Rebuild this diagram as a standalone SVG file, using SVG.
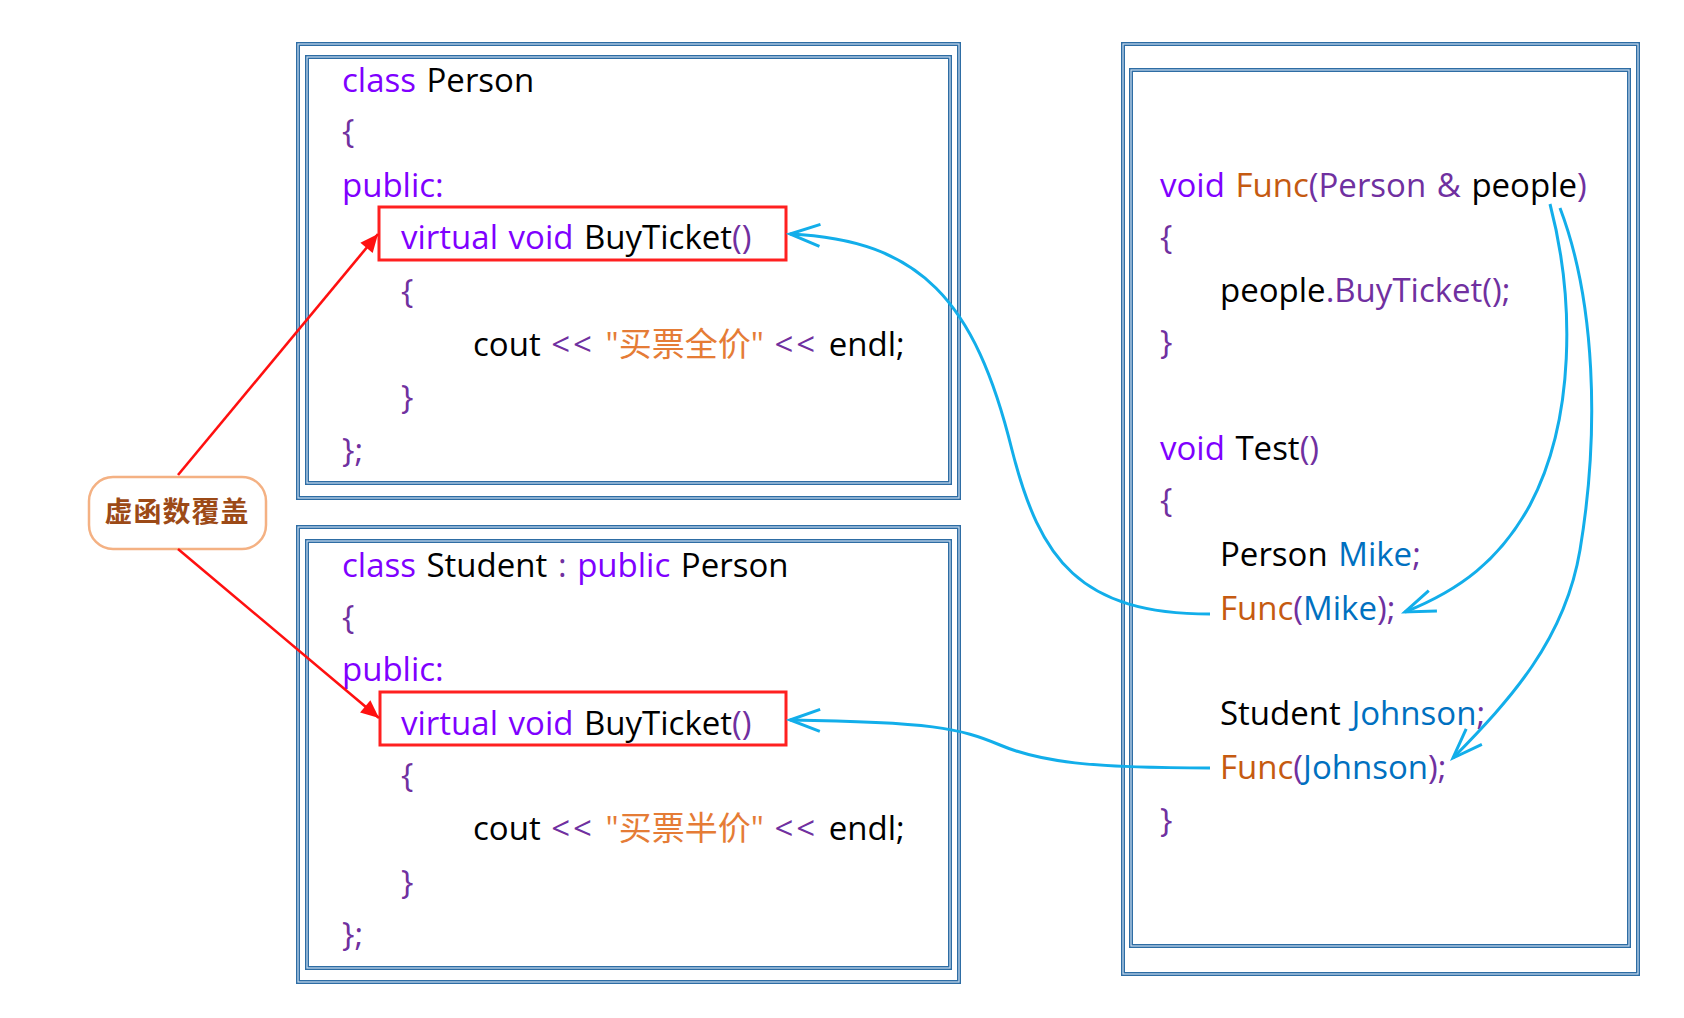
<svg xmlns="http://www.w3.org/2000/svg" width="1684" height="1018" viewBox="0 0 1684 1018">
<style>
.code{font-family:"Open Sans","Noto Sans CJK SC",sans-serif;font-size:33px;fill:#000;word-spacing:2px}
.kw{fill:#7F00FF}
.pu{fill:#7030A0}
.st{fill:#E57C36}
.fn{fill:#C55A11}
.va{fill:#0070C0}
.ll{letter-spacing:3px}
.b1{fill:none;stroke:#2E6DA4;stroke-width:4}
.b2{fill:none;stroke:#C9DDF0;stroke-width:1.2}
.hl{fill:none;stroke:#FF2020;stroke-width:3}
.blue{fill:none;stroke:#12AEEA;stroke-width:3;marker-end:url(#ab)}
.red{fill:none;stroke:#FF1010;stroke-width:2.6;marker-end:url(#ar)}
.lbl{font-family:"Noto Sans CJK SC",sans-serif;font-size:28px;font-weight:bold;fill:#9C4A17}
</style>
<defs>
<marker id="ab" viewBox="-34 -16 38 32" refX="0" refY="0" markerWidth="38" markerHeight="32" markerUnits="userSpaceOnUse" orient="auto">
<path d="M-30,-11 L0,0 L-30,11" fill="none" stroke="#12AEEA" stroke-width="3" stroke-linejoin="miter"/>
</marker>
<marker id="ar" viewBox="-20 -10 22 20" refX="0" refY="0" markerWidth="22" markerHeight="20" markerUnits="userSpaceOnUse" orient="auto">
<path d="M-18,-8 L0,0 L-18,8 Z" fill="#FF1010"/>
</marker>
</defs>
<rect width="1684" height="1018" fill="#fff"/>

<g id="person">
<rect class="b1" x="298" y="44" width="661" height="454"/>
<rect class="b2" x="298" y="44" width="661" height="454"/>
<rect class="b1" x="307" y="57" width="643" height="426"/>
<rect class="b2" x="307" y="57" width="643" height="426"/>
<rect class="hl" x="379" y="207" width="407" height="53"/>
<text class="code" x="342" y="92"><tspan class="kw">class </tspan><tspan>Person</tspan></text>
<text class="code pu" x="342" y="143">{</text>
<text class="code kw" x="342" y="197">public:</text>
<text class="code" x="401" y="249"><tspan class="kw">virtual void </tspan><tspan>BuyTicket</tspan><tspan class="pu">()</tspan></text>
<text class="code pu" x="401" y="303">{</text>
<text class="code" x="473" y="356"><tspan>cout </tspan><tspan class="pu ll">&lt;&lt;</tspan><tspan> </tspan><tspan class="st">"买票全价" </tspan><tspan class="pu ll">&lt;&lt;</tspan><tspan> endl;</tspan></text>
<text class="code pu" x="401" y="409">}</text>
<text class="code pu" x="342" y="462">};</text>
</g>

<g id="student">
<rect class="b1" x="298" y="527" width="661" height="455"/>
<rect class="b2" x="298" y="527" width="661" height="455"/>
<rect class="b1" x="307" y="541" width="643" height="427"/>
<rect class="b2" x="307" y="541" width="643" height="427"/>
<rect class="hl" x="380" y="692" width="406" height="53"/>
<text class="code" x="342" y="577"><tspan class="kw">class </tspan><tspan>Student </tspan><tspan class="pu">: </tspan><tspan class="kw">public </tspan><tspan>Person</tspan></text>
<text class="code pu" x="342" y="629">{</text>
<text class="code kw" x="342" y="681">public:</text>
<text class="code" x="401" y="735"><tspan class="kw">virtual void </tspan><tspan>BuyTicket</tspan><tspan class="pu">()</tspan></text>
<text class="code pu" x="401" y="787">{</text>
<text class="code" x="473" y="840"><tspan>cout </tspan><tspan class="pu ll">&lt;&lt;</tspan><tspan> </tspan><tspan class="st">"买票半价" </tspan><tspan class="pu ll">&lt;&lt;</tspan><tspan> endl;</tspan></text>
<text class="code pu" x="401" y="894">}</text>
<text class="code pu" x="342" y="946">};</text>
</g>

<g id="test">
<rect class="b1" x="1123" y="44" width="515" height="930"/>
<rect class="b2" x="1123" y="44" width="515" height="930"/>
<rect class="b1" x="1131" y="70" width="498" height="876"/>
<rect class="b2" x="1131" y="70" width="498" height="876"/>
<text class="code" x="1160" y="197"><tspan class="kw">void </tspan><tspan class="fn">Func</tspan><tspan class="pu">(Person &amp; </tspan><tspan>people</tspan><tspan class="pu">)</tspan></text>
<text class="code pu" x="1160" y="249">{</text>
<text class="code" x="1220" y="302"><tspan>people</tspan><tspan class="pu">.BuyTicket();</tspan></text>
<text class="code pu" x="1160" y="354">}</text>
<text class="code" x="1160" y="460"><tspan class="kw">void </tspan><tspan>Test</tspan><tspan class="pu">()</tspan></text>
<text class="code pu" x="1160" y="512">{</text>
<text class="code" x="1220" y="566"><tspan>Person </tspan><tspan class="va">Mike</tspan><tspan class="pu">;</tspan></text>
<text class="code" x="1220" y="620"><tspan class="fn">Func</tspan><tspan class="pu">(</tspan><tspan class="va">Mike</tspan><tspan class="pu">);</tspan></text>
<text class="code" x="1220" y="725"><tspan>Student </tspan><tspan class="va">Johnson</tspan><tspan class="pu">;</tspan></text>
<text class="code" x="1220" y="779"><tspan class="fn">Func</tspan><tspan class="pu">(</tspan><tspan class="va">Johnson</tspan><tspan class="pu">);</tspan></text>
<text class="code pu" x="1160" y="832">}</text>
</g>

<g id="label">
<rect x="89" y="477" width="177" height="72" rx="24" fill="#fff" stroke="#F4B183" stroke-width="2.5"/>
<text class="lbl" x="177" y="522" text-anchor="middle" letter-spacing="1">虚函数覆盖</text>
</g>

<g id="connectors">
<path class="red" d="M178,475 L378,234"/>
<path class="red" d="M178,549 L379,718"/>
<path class="blue" d="M1210,614 C1080,614 1040,560 1012,450 C975,300 920,240 790,234"/>
<path class="blue" d="M1210,768 C1090,768 1040,762 1000,745 S930,722 790,720"/>
<path class="blue" d="M1550,204 C1575,300 1575,420 1530,505 C1500,560 1460,590 1405,612"/>
<path class="blue" d="M1560,208 C1595,300 1600,430 1580,550 C1565,640 1510,700 1453,758"/>
</g>
</svg>
